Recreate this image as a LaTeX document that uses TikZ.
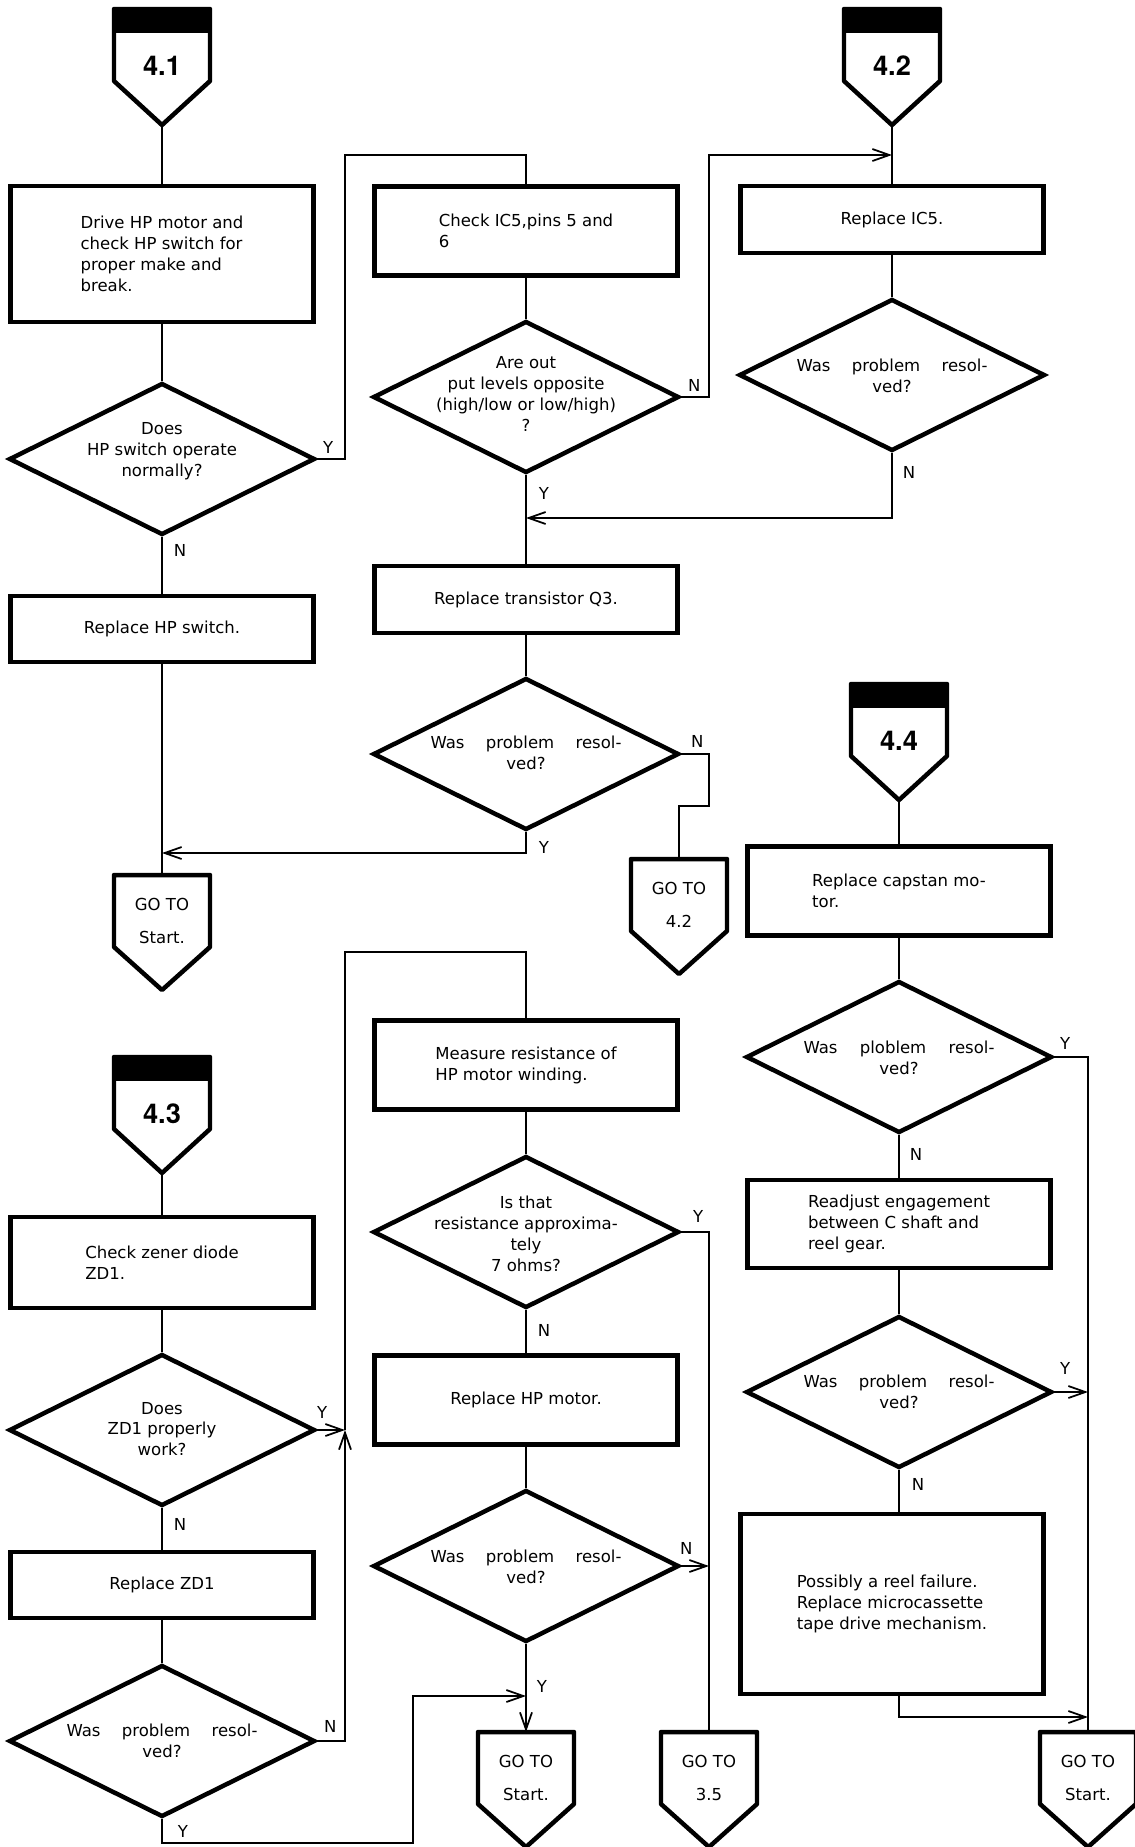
\documentclass[tikz,border=0pt]{standalone}
\usepackage{fontspec}
\setmainfont{DejaVu Sans}
\newfontfamily\tagfont{TeX Gyre Heros}
\usetikzlibrary{arrows.meta,shapes.geometric}
\newcommand{\flowfont}{\fontsize{9.4}{11.9}\selectfont}
\newcommand{\spread}[1]{\makebox[3.82cm][s]{#1}}
\newcommand{\entrytag}[4]{%
  \fill ({#2-48},#3) rectangle ({#2+48},{#3+24});
  \draw[tagline] ({#2-48},#3) -- ({#2+48},#3) -- ({#2+48},{#3+72}) -- (#2,{#3+116}) -- ({#2-48},{#3+72}) -- cycle;
  \node[tagnum] (#1) at (#2,{#3+57}) {#4};
  \coordinate (#1-tip) at (#2,{#3+116});}
\newcommand{\gototag}[4]{%
  \draw[tagline] ({#2-48},#3) -- ({#2+48},#3) -- ({#2+48},{#3+72}) -- (#2,{#3+115}) -- ({#2-48},{#3+72}) -- cycle;
  \node[gotonum] (#1) at (#2,{#3+46}) {GO TO\\#4};
  \coordinate (#1-top) at (#2,#3);}

\begin{document}
\begin{tikzpicture}[x=0.02cm,y=-0.02cm,>={Straight Barb[length=3.4mm,width=2.4mm]},
  flow/.style={line width=1pt},
  tagline/.style={line width=2.55pt,line join=round},
  procbox/.style={draw,line width=2.55pt,minimum width=6.06cm,align=left,inner sep=0pt,font=\flowfont},
  decision/.style={draw,diamond,line width=2.55pt,minimum width=6.12cm,minimum height=3.04cm,inner sep=0pt},
  qtext/.style={align=center,inner sep=0pt,font=\flowfont},
  yn/.style={inner sep=0pt,font=\flowfont},
  tagnum/.style={font=\tagfont\bfseries\fontsize{15.5}{18}\selectfont},
  gotonum/.style={align=center,inner sep=0pt,font=\fontsize{9.4}{18.7}\selectfont}]
\path[fill=white,use as bounding box] (0,0) rectangle (1134,1847);

\entrytag{t41}{162}{9}{4.1}
\node[procbox,minimum height=2.72cm] (b1) at (162,254) {Drive HP motor and\\check HP switch for\\proper make and\\break.};
\node[decision] (d1) at (162,459) {};
\node[qtext] (q1) at (162,451) {Does\\HP switch operate\\normally?};
\node[procbox,minimum height=1.32cm,align=center] (b2) at (162,629) {Replace HP switch.};
\gototag{g1}{162}{875}{Start.}

\node[procbox,minimum height=1.78cm] (b3) at (526,231) {Check IC5,pins 5 and\\6};
\node[decision] (d2) at (526,397) {};
\node[qtext] (q2) at (526,394) {Are out\\put levels opposite\\(high/low or low/high)\\?};
\node[procbox,minimum height=1.34cm,align=center] (b5) at (526,599.5) {Replace transistor Q3.};
\node[decision] (d4) at (526,754) {};
\node[qtext] (q4) at (526,753) {\spread{Was problem resol-}\\ved?};
\gototag{g2}{679}{859}{4.2}

\entrytag{t42}{892}{9}{4.2}
\node[procbox,minimum height=1.34cm,align=center] (b4) at (892,219.5) {Replace IC5.};
\node[decision] (d3) at (892,375) {};
\node[qtext] (q3) at (892,376) {\spread{Was problem resol-}\\ved?};

\node[procbox,minimum height=1.78cm] (b6) at (526,1065) {Measure resistance of\\HP motor winding.};
\node[decision] (d5) at (526,1232) {};
\node[qtext] (q5) at (526,1234) {Is that\\resistance approxima-\\tely\\7 ohms?};
\node[procbox,minimum height=1.78cm,align=center] (b7) at (526,1400) {Replace HP motor.};
\node[decision] (d6) at (526,1566) {};
\node[qtext] (q6) at (526,1567) {\spread{Was problem resol-}\\ved?};
\gototag{g3}{526}{1732}{Start.}
\gototag{g4}{709}{1732}{3.5}

\entrytag{t43}{162}{1057}{4.3}
\node[procbox,minimum height=1.82cm] (b8) at (162,1262.5) {Check zener diode\\ZD1.};
\node[decision] (d7) at (162,1430) {};
\node[qtext] (q7) at (162,1429) {Does\\ZD1 properly\\work?};
\node[procbox,minimum height=1.32cm,align=center] (b9) at (162,1585) {Replace ZD1};
\node[decision] (d8) at (162,1741) {};
\node[qtext] (q8) at (162,1741) {\spread{Was problem resol-}\\ved?};

\entrytag{t44}{899}{684}{4.4}
\node[procbox,minimum height=1.78cm] (b10) at (899,891) {Replace capstan mo-\\tor.};
\node[decision] (d9) at (899,1057) {};
\node[qtext] (q9) at (899,1058) {\spread{Was ploblem resol-}\\ved?};
\node[procbox,minimum height=1.76cm] (b11) at (899,1224) {Readjust engagement\\between C shaft and\\reel gear.};
\node[decision] (d10) at (899,1392) {};
\node[qtext] (q10) at (899,1392) {\spread{Was problem resol-}\\ved?};
\node[procbox,minimum height=3.6cm] (b12) at (892,1604) {Possibly a reel failure.\\Replace microcassette\\tape drive mechanism.};
\gototag{g5}{1088}{1732}{Start.}

\draw[flow] (t41-tip) -- (b1.north);
\draw[flow] (b1.south) -- (d1.north);
\draw[flow] (d1.east) node[yn,shift={(11,-12)}] {Y} -| (345,155) -| (b3.north);
\draw[flow] (d1.south) node[yn,shift={(18,13)}] {N} -- (b2.north);
\draw[flow] (b2.south) -- (g1-top);
\draw[flow] (b3.south) -- (d2.north);
\draw[flow,->] (d2.east) node[yn,shift={(13,-12)}] {N} -| (709,155) -- (t42-tip |- 0,155);
\draw[flow] (d2.south) node[yn,shift={(18,18)}] {Y} -- (b5.north);
\draw[flow] (t42-tip) -- (b4.north);
\draw[flow] (b4.south) -- (d3.north);
\draw[flow,->] (d3.south) node[yn,shift={(17,19)}] {N} |- (b3.south |- 0,518);
\draw[flow] (b5.south) -- (d4.north);
\draw[flow,->] (d4.south) node[yn,shift={(18,15)}] {Y} |- (b2.south |- 0,853);
\draw[flow] (d4.east) node[yn,shift={(16,-13)}] {N} -| (709,806) -| (g2-top);

\coordinate (jL) at (345,1430);
\draw[flow] (t43-tip) -- (b8.north);
\draw[flow] (b8.south) -- (d7.north);
\draw[flow] (d7.south) node[yn,shift={(18,16)}] {N} -- (b9.north);
\draw[flow] (b9.south) -- (d8.north);
\draw[flow,->] (d7.east) node[yn,shift={(5,-18)}] {Y} -- (jL);
\draw[flow,->] (d8.east) node[yn,shift={(13,-15)}] {N} -| (jL);
\draw[flow] (jL) -- (345,952) -| (b6.north);
\draw[flow,->] (d8.south) node[yn,shift={(21,12)}] {Y} |- (413,1843) |- (d6.south |- 0,1696);

\draw[flow] (b6.south) -- (d5.north);
\draw[flow] (d5.south) node[yn,shift={(18,20)}] {N} -- (b7.north);
\draw[flow] (d5.east) node[yn,shift={(17,-16)}] {Y} -| (g4-top);
\draw[flow] (b7.south) -- (d6.north);
\draw[flow,->] (d6.east) node[yn,shift={(5,-18)}] {N} -- (d6.east -| g4-top);
\draw[flow,->] (d6.south) node[yn,shift={(16,42)}] {Y} -- (g3-top);

\draw[flow] (t44-tip) -- (b10.north);
\draw[flow] (b10.south) -- (d9.north);
\draw[flow] (d9.east) node[yn,shift={(11,-14)}] {Y} -| (g5-top);
\draw[flow] (d9.south) node[yn,shift={(17,19)}] {N} -- (b11.north);
\draw[flow] (b11.south) -- (d10.north);
\draw[flow,->] (d10.east) node[yn,shift={(11,-24)}] {Y} -- (d10.east -| g5-top);
\draw[flow] (d10.south) node[yn,shift={(19,14)}] {N} -- (d10.south |- b12.north);
\draw[flow,->] (b12.south -| b11.south) |- (g5-top |- 0,1717);
\end{tikzpicture}
\end{document}
